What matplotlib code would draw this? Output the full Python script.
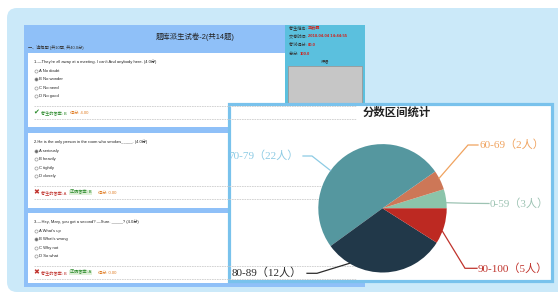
import matplotlib
matplotlib.use("Agg")
import matplotlib.pyplot as plt
from matplotlib.patches import Rectangle, FancyBboxPatch
import numpy as np

plt.rcParams['font.family'] = ['Liberation Sans', 'Noto Sans CJK SC', 'DejaVu Sans']

# pie data
ranges = ['0-59', '60-69', '70-79', '80-89', '90-100']
counts = [3, 2, 22, 12, 5]
shares = [4.8, 4.9, 50.3, 31.0, 9.0]   # wedge sizes as drawn (percent)
pie_colors = ['#8bc4aa', '#cd7757', '#55979f', '#213849', '#bd2922']
label_colors = ['#9dc3b3', '#f0a35f', '#8dcbe4', '#2b2b2b', '#c0332c']

# exam page text
title = '题库派生试卷-2(共14题)'
section = '一、选择题 (共10题, 共40.0分)'
questions = ["1.—They're all away at a meeting. I can't And anybody here. (4.0分)",
             "2.He is the only person in the room who smokes_____. (4.0分)",
             "3.—Hey, Mary, you got a second? —Sure. _____? (4.0分)"]
options = [['A No doubt', 'B No wonder', 'C No need', 'D No good'],
           ['A seriously', 'B heavily', 'C tightly', 'D closely'],
           ["A What's up", "B What's wrong", 'C Why not', 'D So what']]
chosen = [1, 0, 1]
given = ['B', 'A', 'B']
correct = [None, 'B', 'A']
scores = ['4.00', '0.00', '0.00']
info_keys = ['考生姓名: ', '交卷时间: ', '考试得分: ', '总分: ']
info_vals = ['王云霞', '2018-04-04 14:44:55', '80.0', '100.0']

W, H = 558, 294
fs = 3.0
fig = plt.figure(figsize=(W / 100, H / 100), dpi=100)
bg = fig.add_axes([0, 0, 1, 1])
bg.set_xlim(0, W)
bg.set_ylim(H, 0)
bg.axis('off')

# light blue page background
bg.add_patch(FancyBboxPatch((7, 8), 560, 284, boxstyle='round,pad=0,rounding_size=10',
                            fc='#cbe9f9', ec='none'))
# exam panel
bg.add_patch(Rectangle((24, 25), 341, 262, fc='#8fc0f8', ec='none'))
bg.text(195, 37, title, ha='center', va='center', fontsize=5.3, color='#222222')
bg.text(28, 48, section, ha='left', va='center', fontsize=fs, color='#333333')

card_tops = [53, 133, 213]
card_bots = [127, 208, 283]
for i in range(3):
    t = card_tops[i]
    bg.add_patch(Rectangle((28, t), 333, card_bots[i] - t, fc='white', ec='none'))
    bg.text(34, t + 9, questions[i], fontsize=fs, va='center', color='#222222')
    for j, opt in enumerate(options[i]):
        y = t + 18 + j * 8.4
        bg.scatter([36], [y], s=5, c='#666666' if j == chosen[i] else '#ffffff',
                   edgecolors='#999999', linewidths=0.5, zorder=3)
        bg.text(39, y, opt, fontsize=fs, va='center', color='#222222')
    bg.plot([34, 356], [t + 53, t + 53], color='#cccccc', lw=0.6, ls=(0, (2, 1)))
    bg.plot([34, 356], [t + 66, t + 66], color='#cccccc', lw=0.6, ls=(0, (2, 1)))
    ya = t + 59.5
    if correct[i] is None:
        bg.text(33, ya, '✔', fontsize=5, va='center', color='#2a8a2a', fontweight='bold')
        bg.text(41, ya, '考生的答案: ' + given[i], fontsize=fs, va='center', color='#2a8a2a')
        bg.text(70, ya, '得分: ' + scores[i], fontsize=fs, va='center', color='#e07a20')
    else:
        bg.text(33, ya, '✖', fontsize=5, va='center', color='#c0302a')
        bg.text(41, ya, '考生的答案: ' + given[i], fontsize=fs, va='center', color='#c0302a')
        bg.text(70, ya, '正确答案: ' + correct[i], fontsize=fs, va='center', color='#2a8a2a',
                bbox=dict(fc='#dff0d8', ec='none', pad=0.5))
        bg.text(98, ya, '得分: ' + scores[i], fontsize=fs, va='center', color='#e07a20')

# info panel
bg.add_patch(Rectangle((285, 25), 80, 90, fc='#5bc0de', ec='none'))
for k in range(4):
    y = 27.5 + k * 8.7
    t1 = bg.text(289, y, info_keys[k], fontsize=fs, va='center', color='#333333')
    bg.annotate(info_vals[k], xycoords=t1, xy=(1, 0.5), va='center',
                fontsize=fs, color='#d0221c', fontweight='bold')
bg.text(325, 61.5, '评语', fontsize=fs, ha='center', va='center', color='#333333')
bg.add_patch(Rectangle((288, 65.5), 74, 45, fc='#c6c6c6', ec='#999999', lw=0.6))

# chart box
bg.add_patch(Rectangle((228.5, 103.5), 323, 177, fc='white', ec='#79c2ec', lw=2.3))

# pie axes over inner chart area (data units = pixels, y up)
x0, x1, y0, y1 = 230, 550, H - 279, H - 105
pax = fig.add_axes([x0 / W, y0 / H, (x1 - x0) / W, (y1 - y0) / H])
pax.set_facecolor('none')
cx, cy, r = 382.5, H - 208.3, 64.2
pax.pie(shares, colors=pie_colors, startangle=0, counterclock=True,
        center=(cx, cy), radius=r, wedgeprops=dict(linewidth=0))
pax.set_xlim(x0, x1)
pax.set_ylim(y0, y1)
pax.axis('off')

pax.text((x0 + x1) / 2 + 7, H - 112, '分数区间统计', ha='center', va='center',
         fontsize=8.2, fontweight='bold', color='#222222',
         family=['Noto Sans CJK SC'])

# label layout: anchor angle on rim, elbow point, line end, text anchor
anchor_deg = [5, 28, 144, 239, -21]
elbow = [(468, 203.3), (468, 145), (312, 156), (317, 273.3), (465, 268.3)]
line_end = [(489, 203.5), (478, 145), (303, 156), (307, 273.3), (477, 268.3)]
text_pos = [(490, 203.5, 'left'), (479, 145, 'left'), (299, 156, 'right'),
            (302, 273, 'right'), (478, 268.3, 'left')]
for i in range(5):
    a = np.deg2rad(anchor_deg[i])
    px, py = cx + r * np.cos(a), cy + r * np.sin(a)
    ex, ey = elbow[i]
    lx, ly = line_end[i]
    pax.plot([px, ex, lx], [py, H - ey, H - ly], color=label_colors[i], lw=0.9,
             solid_joinstyle='miter')
    tx, ty, ha = text_pos[i]
    pax.text(tx, H - ty, f'{ranges[i]}（{counts[i]}人）', ha=ha, va='center',
             fontsize=8.0, color=label_colors[i], clip_on=True,
             family=['Liberation Serif', 'Noto Sans CJK SC'])

fig.savefig('out.png', dpi=100)
